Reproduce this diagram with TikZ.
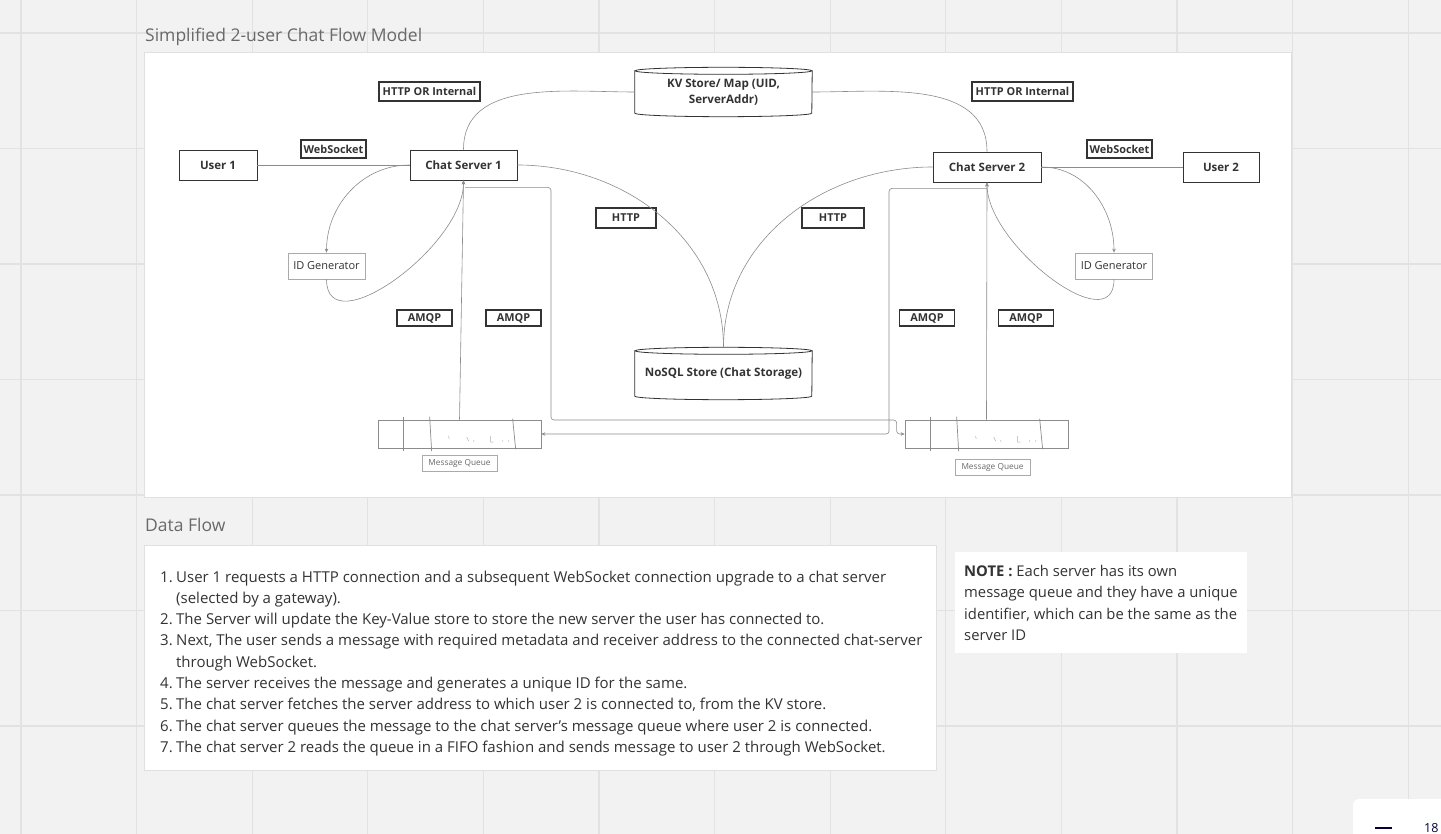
\documentclass[tikz,border=0pt]{standalone}
\usepackage{fontspec}
\setmainfont{Open Sans}
\usepackage{tikz}
\usetikzlibrary{arrows.meta, positioning, calc}

\definecolor{canvasgray}{RGB}{242, 242, 242}
\definecolor{gridgray}{RGB}{226, 226, 226}
\definecolor{framegray}{RGB}{224, 224, 224}
\definecolor{inkgray}{RGB}{51, 51, 51}
\definecolor{wiregray}{RGB}{140, 140, 140}
\definecolor{headgray}{RGB}{105, 105, 105}
\definecolor{softgray}{RGB}{170, 170, 170}
\definecolor{zoomnavy}{RGB}{5, 0, 56}

\tikzset{
  entity/.style={draw=inkgray, line width=0.9pt, fill=white, minimum height=30pt, inner sep=0pt, text=inkgray, font=\fontsize{11.5}{13}\selectfont\bfseries},
  tagbox/.style={draw=inkgray, line width=1.1pt, fill=white, inner sep=0pt, text=inkgray, font=\fontsize{10.9}{12}\selectfont\bfseries},
  helper/.style={draw=softgray, line width=0.7pt, fill=white, minimum width=77pt, minimum height=26pt, inner sep=0pt, text=inkgray, font=\fontsize{11}{13}\selectfont},
  store/.style={minimum width=177pt, inner sep=0pt, align=center, text=inkgray, font=\fontsize{11.6}{16}\selectfont\bfseries},
  queue/.style={draw=wiregray, line width=0.7pt, minimum width=163pt, minimum height=28pt, inner sep=0pt},
  qcaption/.style={draw=softgray, line width=0.6pt, minimum width=75pt, minimum height=16pt, inner sep=0pt, text=headgray, font=\fontsize{8.3}{10}\selectfont},
  heading/.style={anchor=base west, inner sep=0pt, text=headgray, font=\fontsize{17.5}{22}\selectfont},
  flowline/.style={anchor=base west, inner sep=0pt, text=inkgray, font=\fontsize{15}{18}\selectfont},
  noteline/.style={anchor=base west, inner sep=0pt, text=inkgray, font=\fontsize{14.8}{18}\selectfont},
  wire/.style={draw=wiregray, line width=0.6pt},
  tip/.style={-{Stealth[length=4pt, width=3.5pt]}},
}

\begin{document}
\begin{tikzpicture}[x=1pt, y=-1pt]
  \useasboundingbox (0,0) rectangle (1441,834);

  % Canvas and grid
  \fill[canvasgray] (0,0) rectangle (1441,834);
  \foreach \i in {0,...,12} \draw[gridgray, line width=1.2pt] ({21+115.6*\i},0) -- ++(0,834);
  \foreach \j in {0,...,7} \draw[gridgray, line width=1.2pt] (0,{33+115.5*\j}) -- ++(1441,0);

  % Panels
  \draw[framegray, line width=1pt, fill=white] (144,53) rectangle (1291,497);
  \draw[framegray, line width=1pt, fill=white] (144,545) rectangle (936,770);
  \fill[white] (955,552) rectangle (1247,653);

  % Headings
  \node[heading] (maintitle) at (145,41.5) {Simplified 2-user Chat Flow Model};
  \node[heading] (flowtitle) at (145,531) {Data Flow};

  % Users and servers
  \node[entity, minimum width=78pt] (user1) at (218,165) {User 1};
  \node[entity, minimum width=107pt] (cs1) at (463.5,165) {Chat Server 1};
  \node[entity, minimum width=108pt] (cs2) at (987,167) {Chat Server 2};
  \node[entity, minimum width=76pt] (user2) at (1221,167) {User 2};

  % Stores
  \node[store, minimum height=42pt] (kv) at (723.5,92) {KV Store/ Map (UID,\\ServerAddr)};
  \node[store, minimum height=45pt] (nosql) at (723.5,373.5) {NoSQL Store (Chat Storage)};
  \foreach \s in {kv,nosql} {
    \draw[inkgray, line width=0.8pt] (\s.north west) -- (\s.south west)
      arc[start angle=180, end angle=360, x radius=88.5pt, y radius=3.5pt] -- (\s.north east);
    \draw[inkgray, line width=0.8pt] (\s.north) ellipse[x radius=88.5pt, y radius=3.5pt];
  }

  % ID generators
  \node[helper] (idgen1) at (326.5,266) {ID Generator};
  \node[helper] (idgen2) at (1114,266) {ID Generator};

  % Queues
  \node[queue] (mq1) at (459.5,434) {};
  \node[queue] (mq2) at (986.5,434) {};
  \node[qcaption] (mq1cap) at (459.5,463) {Message Queue};
  \node[qcaption] (mq2cap) at (992.5,467) {Message Queue};
  \foreach \q in {mq1,mq2} {
    \draw[wiregray, line width=0.7pt] ($(\q.north west)+(26,-3)$) -- ($(\q.south west)+(26,3)$);
    \draw[wiregray, line width=0.7pt] ($(\q.north west)+(52,-3)$) -- ($(\q.south west)+(54,3)$);
    \draw[wiregray, line width=0.7pt] ($(\q.north west)+(135,-1)$) -- ($(\q.south west)+(138,1)$);
    % scribbles
    \draw[softgray, line width=0.5pt] ($(\q.west)+(71,2)$) -- ++(0.5,3)
      ($(\q.west)+(89,3)$) -- ++(2,4)
      ($(\q.west)+(113,2)$) -- ++(0,6) -- ++(3,0);
    \fill[softgray] ($(\q.west)+(96,7)$) circle[radius=0.6pt]
      ($(\q.west)+(125,7)$) circle[radius=0.6pt]
      ($(\q.west)+(131,7)$) circle[radius=0.6pt];
  }

  % Connector tags
  \node[tagbox, minimum width=65pt, minimum height=18pt] (wsL) at (333.5,149) {WebSocket};
  \node[tagbox, minimum width=65pt, minimum height=18pt] (wsR) at (1119.5,149) {WebSocket};
  \node[tagbox, minimum width=101pt, minimum height=19pt] (httpiL) at (429.5,91.5) {HTTP OR Internal};
  \node[tagbox, minimum width=101pt, minimum height=19pt] (httpiR) at (1022.5,91.5) {HTTP OR Internal};
  \node[tagbox, minimum width=60pt, minimum height=20pt] (httpL) at (626,218) {HTTP};
  \node[tagbox, minimum width=62pt, minimum height=20pt] (httpR) at (833,218) {HTTP};
  \node[tagbox, minimum width=55pt, minimum height=16pt] (amqp1) at (424.5,318) {AMQP};
  \node[tagbox, minimum width=55pt, minimum height=16pt] (amqp2) at (513.5,318) {AMQP};
  \node[tagbox, minimum width=55pt, minimum height=16pt] (amqp3) at (927,318) {AMQP};
  \node[tagbox, minimum width=55pt, minimum height=16pt] (amqp4) at (1026,318) {AMQP};

  % Connectors
  \draw[wire] (user1) -- (cs1);
  \draw[wire] (cs2) -- (user2);
  \draw[wire] (cs1.north) to[out=90, in=180] (kv.west);
  \draw[wire] (kv.east) to[out=0, in=90] (cs2.north);
  \coordinate (nosqltop) at ($(nosql.north)+(0,-3.5)$);
  \draw[wire] (cs1.east) to[out=0, in=90] (nosqltop);
  \draw[wire] (cs2.west) to[out=180, in=90] (nosqltop);
  \draw[wire, tip] (cs1.west) to[out=180, in=90] (idgen1.north);
  \draw[wire, tip] (idgen1.south) to[out=-90, in=-90] (cs1.south);
  \draw[wire, tip] (cs2.east) to[out=0, in=90] (idgen2.north);
  \draw[wire, tip] (idgen2.south) to[out=-90, in=-90] (cs2.south);

  % Queue links
  \draw[wire, tip] (mq1.north) -- (cs1.south);
  \draw[wire, tip] (mq2.north) -- (cs2.south);
  \coordinate (fork1) at ($(cs1.south)+(1.5,7)$);
  \coordinate (bend1) at (551,420);
  \coordinate (bend2) at ($(mq2.west)+(-8,0)$);
  \draw[wire, tip, rounded corners=3pt] (fork1) -| (bend1) -| (bend2) -- (mq2.west);
  \coordinate (fork2) at ($(cs2.south)+(0,6)$);
  \coordinate (bend3) at (889,434);
  \draw[wire, tip, rounded corners=3pt] (fork2) -| (bend3) -- (mq1.east);

  % Data flow steps
  \node[flowline] (step1) at (160,582) {\makebox[16pt][l]{1.}User 1 requests a HTTP connection and a subsequent WebSocket connection upgrade to a chat server};
  \node[flowline] (step1b) at (160,603.3) {\hspace*{16pt}(selected by a gateway).};
  \node[flowline] (step2) at (160,624.6) {\makebox[16pt][l]{2.}The Server will update the Key-Value store to store the new server the user has connected to.};
  \node[flowline] (step3) at (160,645.9) {\makebox[16pt][l]{3.}Next, The user sends a message with required metadata and receiver address to the connected chat-server};
  \node[flowline] (step3b) at (160,667.2) {\hspace*{16pt}through WebSocket.};
  \node[flowline] (step4) at (160,688.5) {\makebox[16pt][l]{4.}The server receives the message and generates a unique ID for the same.};
  \node[flowline] (step5) at (160,709.8) {\makebox[16pt][l]{5.}The chat server fetches the server address to which user 2 is connected to, from the KV store.};
  \node[flowline] (step6) at (160,731.1) {\makebox[16pt][l]{6.}The chat server queues the message to the chat server's message queue where user 2 is connected.};
  \node[flowline] (step7) at (160,752.4) {\makebox[16pt][l]{7.}The chat server 2 reads the queue in a FIFO fashion and sends message to user 2 through WebSocket.};

  % Note
  \node[noteline] (note1) at (964,576) {\textbf{NOTE :} Each server has its own};
  \node[noteline] (note2) at (964,597.5) {message queue and they have a unique};
  \node[noteline] (note3) at (964,619) {identifier, which can be the same as the};
  \node[noteline] (note4) at (964,640.5) {server ID};

  % Zoom widget
  \fill[white, rounded corners=6pt] (1353,799) rectangle (1480,870);
  \draw[zoomnavy, line width=2.2pt] (1375,828) -- (1392,828);
  \node[anchor=base west, inner sep=0pt, text=zoomnavy, font=\fontsize{12.5}{15}\selectfont] (zoomlevel) at (1424,832) {18};
\end{tikzpicture}
\end{document}
